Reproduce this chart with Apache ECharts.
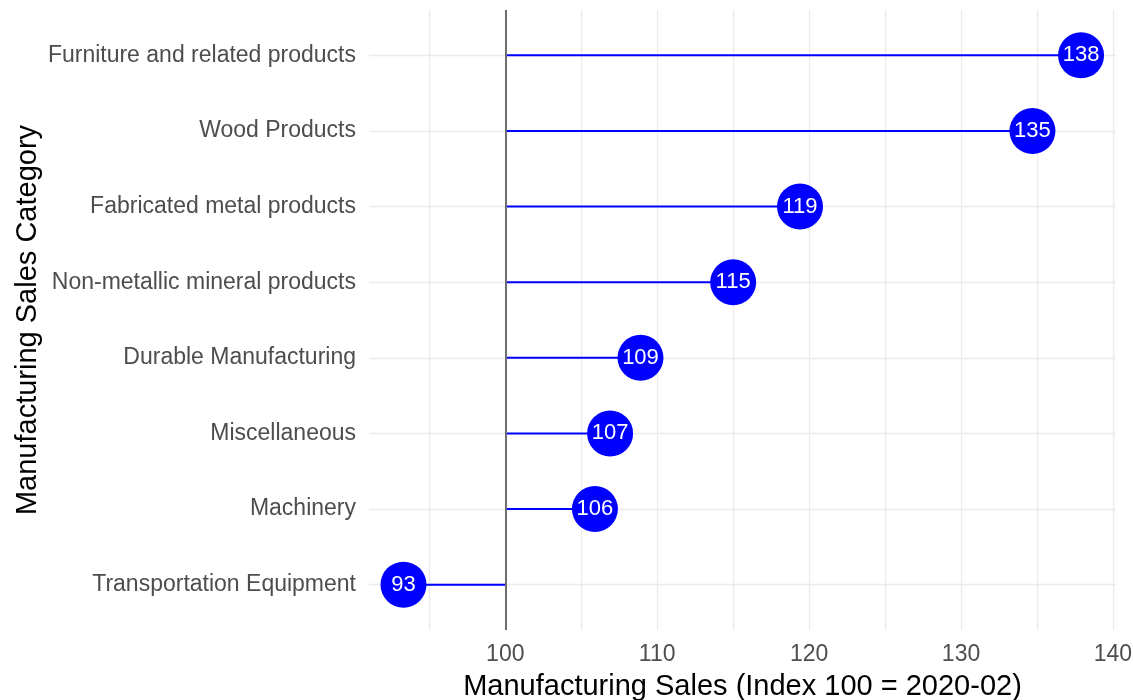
<!DOCTYPE html>
<html>
<head>
<meta charset="utf-8">
<script src="https://cdn.jsdelivr.net/npm/echarts@6/dist/echarts.min.js"></script>
<style>
    body { margin: 0; background: #ffffff; }
    #grafico { width: 1133px; height: 700px; }
</style>
</head>
<body>
<div id="grafico"></div>
<script>
// datos (indice 100 = 2020-02)
var categorias = [
    'Furniture and related products',
    'Wood Products',
    'Fabricated metal products',
    'Non-metallic mineral products',
    'Durable Manufacturing',
    'Miscellaneous',
    'Machinery',
    'Transportation Equipment'
];
var valores = [137.9, 134.7, 119.4, 115.0, 108.9, 106.9, 105.9, 93.3];
var ticksX = [100, 110, 120, 130, 140];
var lineasX = [95, 100, 105, 110, 115, 120, 125, 130, 135, 140];
var posiciones = [1, 2, 3, 4, 5, 6, 7, 8];
var base = 100;

document.addEventListener('DOMContentLoaded', function () {
    var chart = echarts.init(document.getElementById('grafico'));

    var puntos = valores.map(function (v, i) {
        return [v, posiciones[i]];
    });

    var option = {
        animation: false,
        grid: { left: 369, right: 17, top: 10, bottom: 70, containLabel: false, outerBoundsMode: 'none' },
        xAxis: {
            type: 'value',
            min: 91.03,
            max: 140.2,
            name: 'Manufacturing Sales (Index 100 = 2020-02)',
            nameLocation: 'middle',
            nameGap: 42,
            nameTextStyle: { fontFamily: 'Liberation Sans', fontSize: 29, color: '#000000' },
            axisLine: { show: false },
            axisTick: { show: false, customValues: lineasX },
            axisLabel: {
                customValues: ticksX,
                margin: 13,
                fontFamily: 'Liberation Sans',
                fontSize: 23,
                color: '#4d4d4d'
            },
            splitLine: { show: true, lineStyle: { color: '#ebebeb', width: 1.3 } }
        },
        yAxis: {
            type: 'value',
            min: 0.4,
            max: 8.6,
            inverse: true,
            name: 'Manufacturing Sales Category',
            nameLocation: 'middle',
            nameRotate: 90,
            nameGap: 327,
            nameMoveOverlap: false,
            nameTextStyle: { fontFamily: 'Liberation Sans', fontSize: 29, color: '#000000' },
            axisLine: { show: false },
            axisTick: { show: false, customValues: posiciones },
            axisLabel: {
                customValues: posiciones,
                margin: 13,
                fontFamily: 'Liberation Sans',
                fontSize: 23,
                color: '#4d4d4d',
                formatter: function (v) {
                    return categorias[Math.round(v) - 1];
                }
            },
            splitLine: { show: true, lineStyle: { color: '#ebebeb', width: 1.3 } }
        },
        series: [{
            // palito desde 100 hasta el valor
            type: 'custom',
            data: puntos,
            z: 2,
            renderItem: function (params, api) {
                var p0 = api.coord([base, api.value(1)]);
                var p1 = api.coord([api.value(0), api.value(1)]);
                return {
                    type: 'line',
                    shape: { x1: p0[0], y1: p0[1], x2: p1[0], y2: p1[1] },
                    style: { stroke: '#0000ff', lineWidth: 2 }
                };
            },
            markLine: {
                silent: true,
                symbol: 'none',
                label: { show: false },
                lineStyle: { color: '#6e6e6e', width: 2, type: 'solid' },
                data: [{ xAxis: base }]
            }
        }, {
            type: 'scatter',
            data: puntos,
            z: 3,
            symbol: 'circle',
            symbolSize: 46,
            itemStyle: { color: '#0000ff', opacity: 1 },
            label: {
                show: true,
                position: 'inside',
                fontFamily: 'Liberation Sans',
                fontSize: 22,
                color: '#ffffff',
                formatter: function (p) {
                    return Math.round(p.value[0]);
                }
            }
        }]
    };

    chart.setOption(option);
});
</script>
</body>
</html>
